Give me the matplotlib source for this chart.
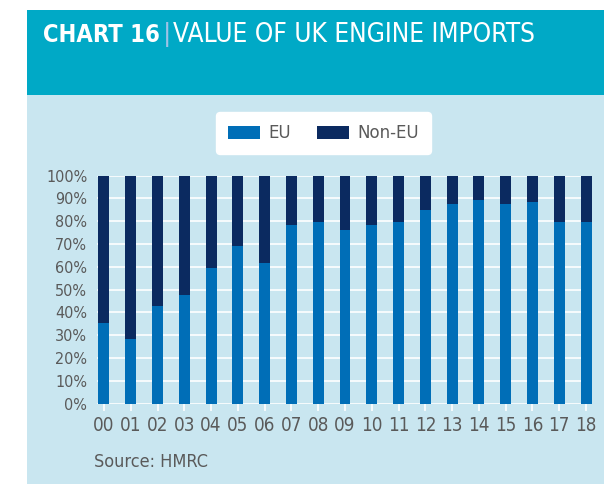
import matplotlib.pyplot as plt
import numpy as np
from matplotlib.patches import Rectangle

years = ['00', '01', '02', '03', '04', '05', '06', '07', '08', '09',
         '10', '11', '12', '13', '14', '15', '16', '17', '18']
eu = [35.5, 28.5, 43, 47.5, 59.5, 69, 61.5, 78.5, 79.5, 76,
      78.5, 79.5, 85, 87.5, 89.5, 87.5, 88.5, 79.5, 79.5]
non_eu = [100 - v for v in eu]
yticks = [0, 10, 20, 30, 40, 50, 60, 70, 80, 90, 100]

C_EU = '#006EB7'
C_NON = '#0B2A60'
C_HEAD = '#00A9C6'
C_PANEL = '#C9E6F0'
C_TEXT = '#5a5a5a'

plt.rcParams['font.family'] = ['DejaVu Sans']
fig = plt.figure(figsize=(6.04, 4.84), dpi=100)
fig.patches.append(Rectangle((0.0447, 0.8037), 1, 0.1756, transform=fig.transFigure,
                             facecolor=C_HEAD, edgecolor='none', zorder=-10))
fig.patches.append(Rectangle((0.0447, 0), 1, 0.8037, transform=fig.transFigure,
                             facecolor=C_PANEL, edgecolor='none', zorder=-10))

# header title
fig.text(43 / 604, 0.928, 'CHART 16', color='white', fontsize=17, fontweight='bold',
         fontstretch='condensed', va='center', ha='left')
fig.text(163 / 604, 0.928, '|', color='#9fc3e6', fontsize=18, va='center', ha='left')
fig.text(173 / 604, 0.928, 'VALUE OF UK ENGINE IMPORTS', color='white', fontsize=18.8,
         fontweight='light', fontstretch='condensed', va='center', ha='left')

ax = fig.add_axes([0.1606, 0.166, 0.8194, 0.471])
ax.set_zorder(2)
ax.set_facecolor('none')
index = np.arange(len(years))
width = 0.41
ax.bar(index, eu, width, color=C_EU, label='EU', zorder=3)
ax.bar(index, non_eu, width, bottom=eu, color=C_NON, label='Non-EU', zorder=3)

ax.set_ylim(0, 100)
ax.set_xlim(-0.26, 18.22)
ax.set_yticks(yticks)
ax.set_yticklabels(['%d%%' % v for v in yticks], fontsize=11.5, color=C_TEXT,
                   fontstretch='condensed')
ax.set_xticks(index)
ax.set_xticklabels(years, fontsize=13.5, color=C_TEXT, fontstretch='condensed')
ax.grid(axis='y', color='white', linewidth=1.2, zorder=0)
for s in ax.spines.values():
    s.set_visible(False)
ax.tick_params(axis='y', length=0, pad=7)
ax.tick_params(axis='x', length=5, color='white', width=1.2, pad=4)

leg = fig.legend(loc='center', bbox_to_anchor=(0.5356, 0.725), ncol=2, fontsize=12,
                 frameon=True, fancybox=True, facecolor='white', edgecolor='white',
                 handlelength=1.9, handleheight=0.85, columnspacing=1.6,
                 borderpad=0.7, handletextpad=0.5, framealpha=1, borderaxespad=0)
for t in leg.get_texts():
    t.set_color(C_TEXT)

fig.text(0.156, 0.045, 'Source: HMRC', fontsize=13, color=C_TEXT, va='center',
         ha='left', fontstretch='condensed')

fig.savefig('out.png', dpi=100)
